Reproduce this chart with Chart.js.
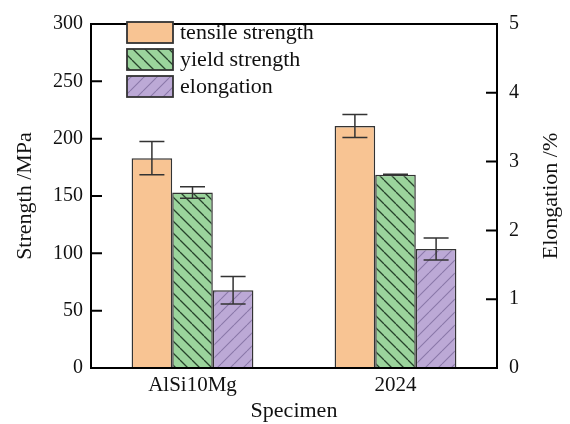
<!DOCTYPE html>
<html>
<head>
<meta charset="utf-8">
<script src="https://cdn.jsdelivr.net/npm/chart.js@4.4.1/dist/chart.umd.min.js"></script>
<style>
  html, body { margin: 0; padding: 0; background: #fff; }
  #wrap { width: 570px; height: 424px; }
</style>
</head>
<body>
<div id="wrap"><canvas id="barChart" width="570" height="424"></canvas></div>
<script>
'use strict';

var categories = ['AlSi10Mg', '2024'];

var tensile    = [183, 211];
var tensileErr = [14.5, 10];

var yieldStr   = [153, 168.5];
var yieldErr   = [5, 0.5];

var elongation = [1.13, 1.73];
var elongErr   = [0.2, 0.16];

var strengthMax = 300, strengthStep = 50;
var elongMax = 5, elongStep = 1;

var serif = "'Liberation Serif', 'Times New Roman', serif";
var edge = '#333';

function hatch(bg, line, size, width, dir) {
    var c = document.createElement('canvas');
    c.width = size; c.height = size;
    var g = c.getContext('2d');
    g.fillStyle = bg;
    g.fillRect(0, 0, size, size);
    g.strokeStyle = line;
    g.lineWidth = width;
    g.beginPath();
    [-size, 0, size].forEach(function (k) {
        if (dir === 'back') {
            g.moveTo(k, 0); g.lineTo(k + size, size);
        } else {
            g.moveTo(k, size); g.lineTo(k + size, 0);
        }
    });
    g.stroke();
    return g.createPattern(c, 'repeat');
}

var tensileFill = '#f8c493';
var yieldFill = hatch('#9bd49c', '#27432b', 12, 1.3, 'back');
var elongFill = hatch('#bca9d6', '#8a78a9', 13, 1.1, 'fwd');

// error bars, inward ticks, frame, legend, right title
var extras = {
    id: 'extras',
    afterDatasetsDraw: function (chart) {
        var ctx = chart.ctx;
        ctx.save();
        ctx.strokeStyle = '#333';
        ctx.lineWidth = 1.5;
        chart.data.datasets.forEach(function (ds, i) {
            var meta = chart.getDatasetMeta(i);
            var sc = chart.scales[ds.yAxisID];
            meta.data.forEach(function (bar, j) {
                var v = ds.data[j], e = ds.err[j];
                var y1 = sc.getPixelForValue(v + e), y2 = sc.getPixelForValue(v - e);
                ctx.beginPath();
                ctx.moveTo(bar.x, y1); ctx.lineTo(bar.x, y2);
                ctx.moveTo(bar.x - 12.5, y1); ctx.lineTo(bar.x + 12.5, y1);
                ctx.moveTo(bar.x - 12.5, y2); ctx.lineTo(bar.x + 12.5, y2);
                ctx.stroke();
            });
        });
        ctx.restore();
    },
    afterDraw: function (chart) {
        var ctx = chart.ctx, a = chart.chartArea;
        ctx.save();
        ctx.strokeStyle = '#000';
        ctx.lineWidth = 2;
        ctx.strokeRect(a.left, a.top, a.right - a.left, a.bottom - a.top);

        ctx.beginPath();
        chart.scales.y.ticks.forEach(function (t) {
            var py = chart.scales.y.getPixelForValue(t.value);
            ctx.moveTo(a.left, py); ctx.lineTo(a.left + 11, py);
        });
        chart.scales.y1.ticks.forEach(function (t) {
            var py = chart.scales.y1.getPixelForValue(t.value);
            ctx.moveTo(a.right, py); ctx.lineTo(a.right - 11, py);
        });
        ctx.stroke();

        // legend inside the plot
        ctx.font = '22px ' + serif;
        ctx.textBaseline = 'middle';
        ctx.textAlign = 'left';
        chart.data.datasets.forEach(function (ds, i) {
            var bx = 127, by = 22 + i * 27;
            ctx.fillStyle = ds.backgroundColor;
            ctx.fillRect(bx, by, 46, 21);
            ctx.strokeStyle = edge;
            ctx.lineWidth = 1.8;
            ctx.strokeRect(bx, by, 46, 21);
            ctx.fillStyle = '#111';
            ctx.fillText(ds.label, bx + 53, by + 11);
        });

        // right axis title reads bottom to top
        ctx.translate(551, (a.top + a.bottom) / 2);
        ctx.rotate(-Math.PI / 2);
        ctx.textAlign = 'center';
        ctx.fillStyle = '#111';
        ctx.fillText('Elongation /%', 0, 0);
        ctx.restore();
    }
};

new Chart(document.getElementById('barChart'), {
    type: 'bar',
    data: {
        labels: categories,
        datasets: [
            { label: 'tensile strength', data: tensile, err: tensileErr, yAxisID: 'y',
              backgroundColor: tensileFill, borderColor: edge, borderWidth: 1.5 },
            { label: 'yield strength', data: yieldStr, err: yieldErr, yAxisID: 'y',
              backgroundColor: yieldFill, borderColor: edge, borderWidth: 1.5 },
            { label: 'elongation', data: elongation, err: elongErr, yAxisID: 'y1',
              backgroundColor: elongFill, borderColor: edge, borderWidth: 1.5 }
        ]
    },
    options: {
        responsive: false,
        animation: false,
        categoryPercentage: 0.6,
        barPercentage: 1.0,
        layout: { padding: { top: 14, left: 0, right: 0, bottom: 0 } },
        plugins: { legend: { display: false }, tooltip: { enabled: false } },
        scales: {
            x: {
                grid: { display: false, drawTicks: false },
                border: { display: false },
                ticks: { color: '#111', padding: 5, font: { family: serif, size: 21 } },
                title: { display: true, text: 'Specimen', color: '#111',
                         padding: { top: 0, bottom: 0 }, font: { family: serif, size: 22 } },
                afterFit: function (s) { s.height = 56; }
            },
            y: {
                position: 'left',
                min: 0, max: strengthMax,
                grid: { display: false, drawTicks: false },
                border: { display: false },
                ticks: { stepSize: strengthStep, color: '#111', padding: 8,
                         font: { family: serif, size: 20 } },
                title: { display: true, text: 'Strength /MPa', color: '#111',
                         padding: { top: 12, bottom: 0 }, font: { family: serif, size: 22 } },
                afterFit: function (s) { s.width = 91; }
            },
            y1: {
                position: 'right',
                min: 0, max: elongMax,
                grid: { display: false, drawTicks: false },
                border: { display: false },
                ticks: { stepSize: elongStep, color: '#111', padding: 12,
                         font: { family: serif, size: 20 } },
                afterFit: function (s) { s.width = 73; }
            }
        }
    },
    plugins: [extras]
});
</script>
</body>
</html>
